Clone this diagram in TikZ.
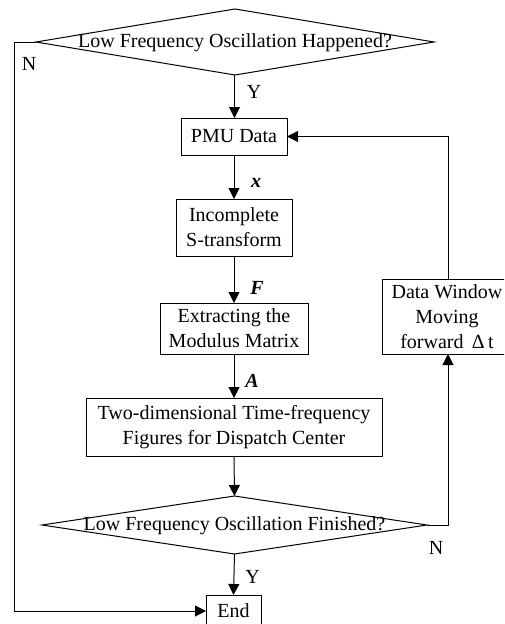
\documentclass[tikz,border=0pt]{standalone}
\usepackage{fontspec}
\setmainfont{Liberation Serif}
\usetikzlibrary{shapes.geometric,arrows.meta}
\begin{document}
\begin{tikzpicture}[x=1pt,y=-1pt,
  every node/.style={font=\fontsize{20}{25}\selectfont},
  box/.style={draw,line width=1pt,inner sep=0pt,outer sep=0pt,align=center},
  dia/.style={draw,diamond,line width=1pt,inner sep=0pt,outer sep=0pt},
  arr/.style={line width=1pt,-{Triangle[length=11pt,width=11pt]}},
  ln/.style={line width=1pt}]
\useasboundingbox (0,0) rectangle (504,624);
\clip (0,0) rectangle (504,624);
\fill[white] (0,0) rectangle (504,624);
% decisions
\node[dia,minimum width=398pt,minimum height=66pt] (d1) at (235,42) {};
\node (t1) at (235,43) {Low Frequency Oscillation Happened?};
\node[dia,minimum width=385pt,minimum height=58pt] (d2) at (234.5,525) {};
\node (t2) at (234.5,526) {Low Frequency Oscillation Finished?};
% boxes
\node[box,minimum width=106pt,minimum height=37pt] (pmu) at (234,136.5) {PMU Data};
\node[box,minimum width=116pt,minimum height=57pt] (ist) at (234,227.5) {Incomplete\\S-transform};
\node[box,minimum width=148pt,minimum height=51pt] (ext) at (234,328.5) {Extracting the\\Modulus Matrix};
\node[box,minimum width=296pt,minimum height=58pt] (two) at (234,427) {Two-dimensional Time-frequency\\Figures for Dispatch Center};
\node[box,minimum width=55pt,minimum height=34pt] (end) at (233.5,612) {};
\node (endt) at (233.5,611) {End};
\node[box,minimum width=150pt,minimum height=75pt] (dw) at (457,316.5) {};
\coordinate (dwb) at (448,354);
\coordinate (dwtop) at (448,279);
\node[align=center] (dwt) at (447,316.5) {Data Window\\Moving\\forward \,Δ\,t};
% connectors
\coordinate (a1) at (234.5,75);
\coordinate (a2) at (234.5,118);
\draw[arr] (a1) -- (a2);
\draw[arr] (pmu.south) -- (ist.north);
\draw[arr] (ist.south) -- (ext.north);
\draw[arr] (ext.south) -- (two.north);
\draw[arr] (two.south) -- (d2.north);
\draw[arr] (d2.south) -- (end.north);
\coordinate (l1) at (14,42);
\coordinate (l2) at (14,611);
\coordinate (e1) at (206,611);
\draw[arr] (d1.west) -- (l1) -- (l2) -- (e1);
\coordinate (r1) at (448,525);
\draw[arr] (d2.east) -- (r1) -- (dwb);
\coordinate (r2) at (448,136.5);
\draw[arr] (dwtop) -- (r2) -- (pmu.east);
% labels
\node (ly1) at (254,91.5) {Y};
\node (ln1) at (29,63.5) {N};
\node (lx) at (256,183) {\textbf{\textit{x}}};
\node (lf) at (257,288) {\textbf{\textit{F}}};
\node (la) at (252,381) {\textbf{\textit{A}}};
\node (ln2) at (436,548) {N};
\node (ly2) at (252.5,576.5) {Y};
\end{tikzpicture}
\end{document}
